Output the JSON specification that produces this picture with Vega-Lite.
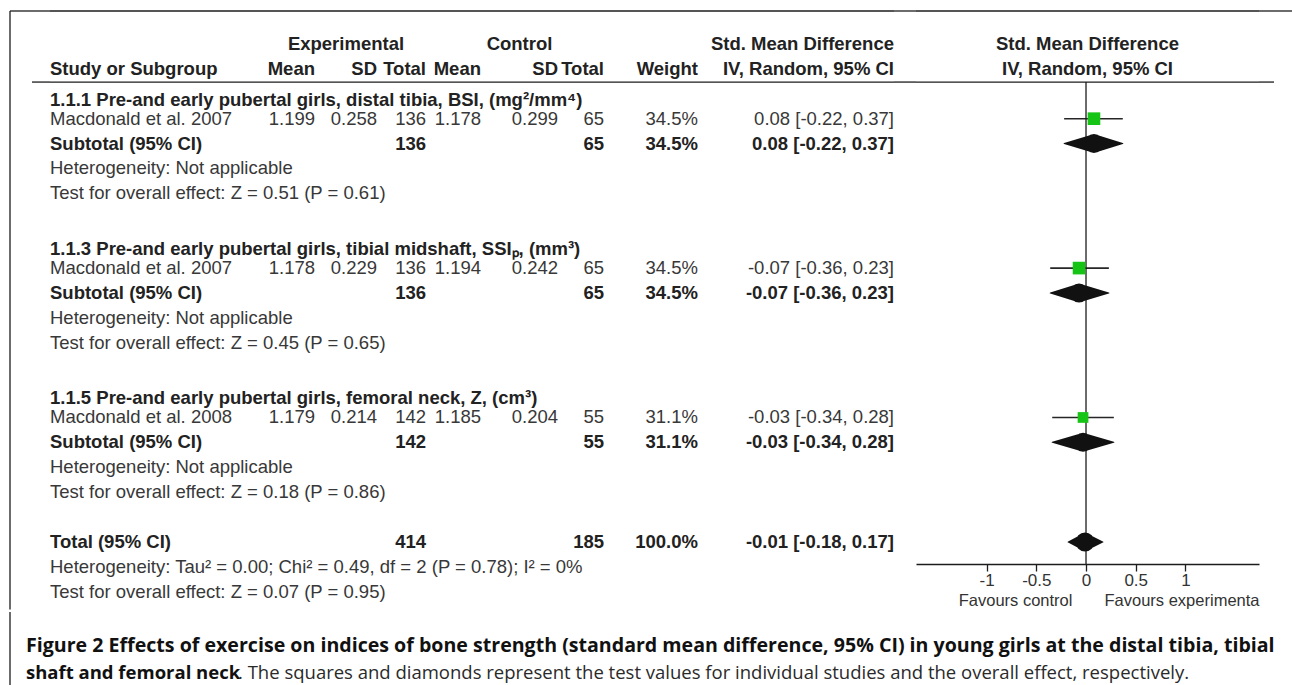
{
  "$schema": "https://vega.github.io/schema/vega-lite/v6.json",
  "background": "white",
  "padding": {"left": 9, "top": 10, "right": 0, "bottom": 0},
  "autosize": {"type": "pad"},
  "datasets": {
    "cells": [
      {"row": 0, "col": "eSD", "text": "Experimental", "w": "h"},
      {"row": 0, "col": "cSD", "text": "Control", "w": "h"},
      {"row": 0, "col": "ci", "text": "Std. Mean Difference", "w": "b"},
      {"row": 0, "col": "plot", "text": "Std. Mean Difference", "w": "b"},
      {"row": 1, "col": "study", "text": "Study or Subgroup", "w": "b"},
      {"row": 1, "col": "eMean", "text": "Mean", "w": "b"},
      {"row": 1, "col": "eSD", "text": "SD", "w": "b"},
      {"row": 1, "col": "eTotal", "text": "Total", "w": "b"},
      {"row": 1, "col": "cMean", "text": "Mean", "w": "b"},
      {"row": 1, "col": "cSD", "text": "SD", "w": "b"},
      {"row": 1, "col": "cTotal", "text": "Total", "w": "b"},
      {"row": 1, "col": "weight", "text": "Weight", "w": "b"},
      {"row": 1, "col": "ci", "text": "IV, Random, 95% CI", "w": "b"},
      {"row": 1, "col": "plot", "text": "IV, Random, 95% CI", "w": "b"},
      {"row": 2, "col": "study", "text": "1.1.1 Pre-and early pubertal girls, distal tibia, BSI, (mg²/mm⁴)", "w": "t"},
      {"row": 3, "col": "study", "text": "Macdonald et al. 2007", "w": "n"},
      {"row": 3, "col": "eMean", "text": "1.199", "w": "n"},
      {"row": 3, "col": "eSD", "text": "0.258", "w": "n"},
      {"row": 3, "col": "eTotal", "text": "136", "w": "n"},
      {"row": 3, "col": "cMean", "text": "1.178", "w": "n"},
      {"row": 3, "col": "cSD", "text": "0.299", "w": "n"},
      {"row": 3, "col": "cTotal", "text": "65", "w": "n"},
      {"row": 3, "col": "weight", "text": "34.5%", "w": "n"},
      {"row": 3, "col": "ci", "text": "0.08 [-0.22, 0.37]", "w": "n"},
      {"row": 4, "col": "study", "text": "Subtotal (95% CI)", "w": "b"},
      {"row": 4, "col": "eTotal", "text": "136", "w": "b"},
      {"row": 4, "col": "cTotal", "text": "65", "w": "b"},
      {"row": 4, "col": "weight", "text": "34.5%", "w": "b"},
      {"row": 4, "col": "ci", "text": "0.08 [-0.22, 0.37]", "w": "b"},
      {"row": 5, "col": "study", "text": "Heterogeneity: Not applicable", "w": "n"},
      {"row": 6, "col": "study", "text": "Test for overall effect: Z = 0.51 (P = 0.61)", "w": "n"},
      {"row": 8, "col": "study", "text": "1.1.3 Pre-and early pubertal girls, tibial midshaft, SSIₚ, (mm³)", "w": "t"},
      {"row": 9, "col": "study", "text": "Macdonald et al. 2007", "w": "n"},
      {"row": 9, "col": "eMean", "text": "1.178", "w": "n"},
      {"row": 9, "col": "eSD", "text": "0.229", "w": "n"},
      {"row": 9, "col": "eTotal", "text": "136", "w": "n"},
      {"row": 9, "col": "cMean", "text": "1.194", "w": "n"},
      {"row": 9, "col": "cSD", "text": "0.242", "w": "n"},
      {"row": 9, "col": "cTotal", "text": "65", "w": "n"},
      {"row": 9, "col": "weight", "text": "34.5%", "w": "n"},
      {"row": 9, "col": "ci", "text": "-0.07 [-0.36, 0.23]", "w": "n"},
      {"row": 10, "col": "study", "text": "Subtotal (95% CI)", "w": "b"},
      {"row": 10, "col": "eTotal", "text": "136", "w": "b"},
      {"row": 10, "col": "cTotal", "text": "65", "w": "b"},
      {"row": 10, "col": "weight", "text": "34.5%", "w": "b"},
      {"row": 10, "col": "ci", "text": "-0.07 [-0.36, 0.23]", "w": "b"},
      {"row": 11, "col": "study", "text": "Heterogeneity: Not applicable", "w": "n"},
      {"row": 12, "col": "study", "text": "Test for overall effect: Z = 0.45 (P = 0.65)", "w": "n"},
      {"row": 14, "col": "study", "text": "1.1.5 Pre-and early pubertal girls, femoral neck, Z, (cm³)", "w": "t"},
      {"row": 15, "col": "study", "text": "Macdonald et al. 2008", "w": "n"},
      {"row": 15, "col": "eMean", "text": "1.179", "w": "n"},
      {"row": 15, "col": "eSD", "text": "0.214", "w": "n"},
      {"row": 15, "col": "eTotal", "text": "142", "w": "n"},
      {"row": 15, "col": "cMean", "text": "1.185", "w": "n"},
      {"row": 15, "col": "cSD", "text": "0.204", "w": "n"},
      {"row": 15, "col": "cTotal", "text": "55", "w": "n"},
      {"row": 15, "col": "weight", "text": "31.1%", "w": "n"},
      {"row": 15, "col": "ci", "text": "-0.03 [-0.34, 0.28]", "w": "n"},
      {"row": 16, "col": "study", "text": "Subtotal (95% CI)", "w": "b"},
      {"row": 16, "col": "eTotal", "text": "142", "w": "b"},
      {"row": 16, "col": "cTotal", "text": "55", "w": "b"},
      {"row": 16, "col": "weight", "text": "31.1%", "w": "b"},
      {"row": 16, "col": "ci", "text": "-0.03 [-0.34, 0.28]", "w": "b"},
      {"row": 17, "col": "study", "text": "Heterogeneity: Not applicable", "w": "n"},
      {"row": 18, "col": "study", "text": "Test for overall effect: Z = 0.18 (P = 0.86)", "w": "n"},
      {"row": 20, "col": "study", "text": "Total (95% CI)", "w": "b"},
      {"row": 20, "col": "eTotal", "text": "414", "w": "b"},
      {"row": 20, "col": "cTotal", "text": "185", "w": "b"},
      {"row": 20, "col": "weight", "text": "100.0%", "w": "b"},
      {"row": 20, "col": "ci", "text": "-0.01 [-0.18, 0.17]", "w": "b"},
      {"row": 21, "col": "study", "text": "Heterogeneity: Tau² = 0.00; Chi² = 0.49, df = 2 (P = 0.78); I² = 0%", "w": "n"},
      {"row": 22, "col": "study", "text": "Test for overall effect: Z = 0.07 (P = 0.95)", "w": "n"}
    ],
    "studies": [
      {"row": 3, "est": 0.08, "lo": -0.22, "hi": 0.37, "weight": 34.5},
      {"row": 9, "est": -0.07, "lo": -0.36, "hi": 0.23, "weight": 34.5},
      {"row": 15, "est": -0.03, "lo": -0.34, "hi": 0.28, "weight": 31.1}
    ],
    "diamonds": [
      {"id": "1.1.1", "row": 4, "x": -0.22, "v": "side"},
      {"id": "1.1.1", "row": 4, "x": 0.08, "v": "apex"},
      {"id": "1.1.1", "row": 4, "x": 0.37, "v": "side"},
      {"id": "1.1.3", "row": 10, "x": -0.36, "v": "side"},
      {"id": "1.1.3", "row": 10, "x": -0.07, "v": "apex"},
      {"id": "1.1.3", "row": 10, "x": 0.23, "v": "side"},
      {"id": "1.1.5", "row": 16, "x": -0.34, "v": "side"},
      {"id": "1.1.5", "row": 16, "x": -0.03, "v": "apex"},
      {"id": "1.1.5", "row": 16, "x": 0.28, "v": "side"},
      {"id": "total", "row": 20, "x": -0.18, "v": "side"},
      {"id": "total", "row": 20, "x": -0.01, "v": "apex"},
      {"id": "total", "row": 20, "x": 0.17, "v": "side"}
    ],
    "captions": [
      {"part": "l1", "text": "Figure 2 Effects of exercise on indices of bone strength (standard mean difference, 95% CI) in young girls at the distal tibia, tibial"},
      {"part": "l2b", "text": "shaft and femoral neck"},
      {"part": "l2n", "text": ". The squares and diamonds represent the test values for individual studies and the overall effect, respectively."}
    ]
  },
  "spacing": 0,
  "vconcat": [
    {
      "spacing": 0,
      "bounds": "flush",
      "hconcat": [
        {"width": 22, "height": 598.5, "data": {"values": [{}]}, "layer": [
          {"mark": "rule", "encoding": {"y": {"datum": -1.325, "type": "quantitative", "scale": {"domain": [-1.325, 22.715], "reverse": true, "nice": false, "zero": false}, "axis": null}}},
          {"mark": "rule", "encoding": {"x": {"datum": 0, "type": "quantitative", "scale": {"domain": [0, 1], "nice": false, "zero": false}, "axis": null}}}
        ]},
        {"width": 18, "height": 593, "data": {"values": [{}]}, "layer": [
          {"mark": "rule", "encoding": {"y": {"datum": -1.325, "type": "quantitative", "scale": {"domain": [-1.325, 22.5], "reverse": true, "nice": false, "zero": false}, "axis": null}}},
          {"mark": "rule", "encoding": {"y": {"datum": 1.53, "type": "quantitative", "scale": {"domain": [-1.325, 22.5], "reverse": true, "nice": false, "zero": false}, "axis": null}}}
        ]},
        {"width": 201, "height": 593, "layer": [
          {"data": {"name": "cells"}, "transform": [{"filter": "datum.col === 'study' && datum.w === 'n'"}], "mark": {"type": "text", "align": "left"}, "encoding": {"x": {"datum": 0, "type": "quantitative", "scale": {"domain": [0, 1], "nice": false, "zero": false}, "axis": null}, "y": {"field": "row", "type": "quantitative", "scale": {"domain": [-1.325, 22.5], "reverse": true, "nice": false, "zero": false}, "axis": null}, "text": {"field": "text"}}},
          {"data": {"name": "cells"}, "transform": [{"filter": "datum.col === 'study' && datum.w === 'b'"}], "mark": {"type": "text", "align": "left", "fontWeight": "bold", "color": "#222222"}, "encoding": {"x": {"datum": 0, "type": "quantitative"}, "y": {"field": "row", "type": "quantitative"}, "text": {"field": "text"}}},
          {"data": {"name": "cells"}, "transform": [{"filter": "datum.col === 'study' && datum.w === 't'"}], "mark": {"type": "text", "align": "left", "fontWeight": "bold", "color": "#222222", "dy": 6}, "encoding": {"x": {"datum": 0, "type": "quantitative"}, "y": {"field": "row", "type": "quantitative"}, "text": {"field": "text"}}},
          {"data": {"values": [{}]}, "mark": "rule", "encoding": {"y": {"datum": -1.325}}},
          {"data": {"values": [{}]}, "mark": "rule", "encoding": {"y": {"datum": 1.53}}}
        ]},
        {"width": 64, "height": 593, "layer": [
          {"data": {"name": "cells"}, "transform": [{"filter": "datum.col === 'eMean' && datum.w === 'n'"}], "mark": {"type": "text", "align": "right"}, "encoding": {"x": {"datum": 1, "type": "quantitative", "scale": {"domain": [0, 1], "nice": false, "zero": false}, "axis": null}, "y": {"field": "row", "type": "quantitative", "scale": {"domain": [-1.325, 22.5], "reverse": true, "nice": false, "zero": false}, "axis": null}, "text": {"field": "text"}}},
          {"data": {"name": "cells"}, "transform": [{"filter": "datum.col === 'eMean' && datum.w === 'b'"}], "mark": {"type": "text", "align": "right", "fontWeight": "bold", "color": "#222222"}, "encoding": {"x": {"datum": 1, "type": "quantitative"}, "y": {"field": "row", "type": "quantitative"}, "text": {"field": "text"}}},
          {"data": {"values": [{}]}, "mark": "rule", "encoding": {"y": {"datum": -1.325}}},
          {"data": {"values": [{}]}, "mark": "rule", "encoding": {"y": {"datum": 1.53}}}
        ]},
        {"width": 62, "height": 593, "layer": [
          {"data": {"name": "cells"}, "transform": [{"filter": "datum.col === 'eSD' && datum.w === 'n'"}], "mark": {"type": "text", "align": "right"}, "encoding": {"x": {"datum": 1, "type": "quantitative", "scale": {"domain": [0, 1], "nice": false, "zero": false}, "axis": null}, "y": {"field": "row", "type": "quantitative", "scale": {"domain": [-1.325, 22.5], "reverse": true, "nice": false, "zero": false}, "axis": null}, "text": {"field": "text"}}},
          {"data": {"name": "cells"}, "transform": [{"filter": "datum.col === 'eSD' && datum.w === 'b'"}], "mark": {"type": "text", "align": "right", "fontWeight": "bold", "color": "#222222"}, "encoding": {"x": {"datum": 1, "type": "quantitative"}, "y": {"field": "row", "type": "quantitative"}, "text": {"field": "text"}}},
          {"data": {"name": "cells"}, "transform": [{"filter": "datum.col === 'eSD' && datum.w === 'h'"}], "mark": {"type": "text", "align": "center", "fontWeight": "bold", "color": "#222222"}, "encoding": {"x": {"datum": 0.5, "type": "quantitative"}, "y": {"field": "row", "type": "quantitative"}, "text": {"field": "text"}}},
          {"data": {"values": [{}]}, "mark": "rule", "encoding": {"y": {"datum": -1.325}}},
          {"data": {"values": [{}]}, "mark": "rule", "encoding": {"y": {"datum": 1.53}}}
        ]},
        {"width": 49, "height": 593, "layer": [
          {"data": {"name": "cells"}, "transform": [{"filter": "datum.col === 'eTotal' && datum.w === 'n'"}], "mark": {"type": "text", "align": "right"}, "encoding": {"x": {"datum": 1, "type": "quantitative", "scale": {"domain": [0, 1], "nice": false, "zero": false}, "axis": null}, "y": {"field": "row", "type": "quantitative", "scale": {"domain": [-1.325, 22.5], "reverse": true, "nice": false, "zero": false}, "axis": null}, "text": {"field": "text"}}},
          {"data": {"name": "cells"}, "transform": [{"filter": "datum.col === 'eTotal' && datum.w === 'b'"}], "mark": {"type": "text", "align": "right", "fontWeight": "bold", "color": "#222222"}, "encoding": {"x": {"datum": 1, "type": "quantitative"}, "y": {"field": "row", "type": "quantitative"}, "text": {"field": "text"}}},
          {"data": {"values": [{}]}, "mark": "rule", "encoding": {"y": {"datum": -1.325}}},
          {"data": {"values": [{}]}, "mark": "rule", "encoding": {"y": {"datum": 1.53}}}
        ]},
        {"width": 55, "height": 593, "layer": [
          {"data": {"name": "cells"}, "transform": [{"filter": "datum.col === 'cMean' && datum.w === 'n'"}], "mark": {"type": "text", "align": "right"}, "encoding": {"x": {"datum": 1, "type": "quantitative", "scale": {"domain": [0, 1], "nice": false, "zero": false}, "axis": null}, "y": {"field": "row", "type": "quantitative", "scale": {"domain": [-1.325, 22.5], "reverse": true, "nice": false, "zero": false}, "axis": null}, "text": {"field": "text"}}},
          {"data": {"name": "cells"}, "transform": [{"filter": "datum.col === 'cMean' && datum.w === 'b'"}], "mark": {"type": "text", "align": "right", "fontWeight": "bold", "color": "#222222"}, "encoding": {"x": {"datum": 1, "type": "quantitative"}, "y": {"field": "row", "type": "quantitative"}, "text": {"field": "text"}}},
          {"data": {"values": [{}]}, "mark": "rule", "encoding": {"y": {"datum": -1.325}}},
          {"data": {"values": [{}]}, "mark": "rule", "encoding": {"y": {"datum": 1.53}}}
        ]},
        {"width": 77, "height": 593, "layer": [
          {"data": {"name": "cells"}, "transform": [{"filter": "datum.col === 'cSD' && datum.w === 'n'"}], "mark": {"type": "text", "align": "right"}, "encoding": {"x": {"datum": 1, "type": "quantitative", "scale": {"domain": [0, 1], "nice": false, "zero": false}, "axis": null}, "y": {"field": "row", "type": "quantitative", "scale": {"domain": [-1.325, 22.5], "reverse": true, "nice": false, "zero": false}, "axis": null}, "text": {"field": "text"}}},
          {"data": {"name": "cells"}, "transform": [{"filter": "datum.col === 'cSD' && datum.w === 'b'"}], "mark": {"type": "text", "align": "right", "fontWeight": "bold", "color": "#222222"}, "encoding": {"x": {"datum": 1, "type": "quantitative"}, "y": {"field": "row", "type": "quantitative"}, "text": {"field": "text"}}},
          {"data": {"name": "cells"}, "transform": [{"filter": "datum.col === 'cSD' && datum.w === 'h'"}], "mark": {"type": "text", "align": "center", "fontWeight": "bold", "color": "#222222"}, "encoding": {"x": {"datum": 0.5, "type": "quantitative"}, "y": {"field": "row", "type": "quantitative"}, "text": {"field": "text"}}},
          {"data": {"values": [{}]}, "mark": "rule", "encoding": {"y": {"datum": -1.325}}},
          {"data": {"values": [{}]}, "mark": "rule", "encoding": {"y": {"datum": 1.53}}}
        ]},
        {"width": 46, "height": 593, "layer": [
          {"data": {"name": "cells"}, "transform": [{"filter": "datum.col === 'cTotal' && datum.w === 'n'"}], "mark": {"type": "text", "align": "right"}, "encoding": {"x": {"datum": 1, "type": "quantitative", "scale": {"domain": [0, 1], "nice": false, "zero": false}, "axis": null}, "y": {"field": "row", "type": "quantitative", "scale": {"domain": [-1.325, 22.5], "reverse": true, "nice": false, "zero": false}, "axis": null}, "text": {"field": "text"}}},
          {"data": {"name": "cells"}, "transform": [{"filter": "datum.col === 'cTotal' && datum.w === 'b'"}], "mark": {"type": "text", "align": "right", "fontWeight": "bold", "color": "#222222"}, "encoding": {"x": {"datum": 1, "type": "quantitative"}, "y": {"field": "row", "type": "quantitative"}, "text": {"field": "text"}}},
          {"data": {"values": [{}]}, "mark": "rule", "encoding": {"y": {"datum": -1.325}}},
          {"data": {"values": [{}]}, "mark": "rule", "encoding": {"y": {"datum": 1.53}}}
        ]},
        {"width": 94, "height": 593, "layer": [
          {"data": {"name": "cells"}, "transform": [{"filter": "datum.col === 'weight' && datum.w === 'n'"}], "mark": {"type": "text", "align": "right"}, "encoding": {"x": {"datum": 1, "type": "quantitative", "scale": {"domain": [0, 1], "nice": false, "zero": false}, "axis": null}, "y": {"field": "row", "type": "quantitative", "scale": {"domain": [-1.325, 22.5], "reverse": true, "nice": false, "zero": false}, "axis": null}, "text": {"field": "text"}}},
          {"data": {"name": "cells"}, "transform": [{"filter": "datum.col === 'weight' && datum.w === 'b'"}], "mark": {"type": "text", "align": "right", "fontWeight": "bold", "color": "#222222"}, "encoding": {"x": {"datum": 1, "type": "quantitative"}, "y": {"field": "row", "type": "quantitative"}, "text": {"field": "text"}}},
          {"data": {"values": [{}]}, "mark": "rule", "encoding": {"y": {"datum": -1.325}}},
          {"data": {"values": [{}]}, "mark": "rule", "encoding": {"y": {"datum": 1.53}}}
        ]},
        {"width": 196, "height": 593, "layer": [
          {"data": {"name": "cells"}, "transform": [{"filter": "datum.col === 'ci' && datum.w === 'n'"}], "mark": {"type": "text", "align": "right"}, "encoding": {"x": {"datum": 1, "type": "quantitative", "scale": {"domain": [0, 1], "nice": false, "zero": false}, "axis": null}, "y": {"field": "row", "type": "quantitative", "scale": {"domain": [-1.325, 22.5], "reverse": true, "nice": false, "zero": false}, "axis": null}, "text": {"field": "text"}}},
          {"data": {"name": "cells"}, "transform": [{"filter": "datum.col === 'ci' && datum.w === 'b'"}], "mark": {"type": "text", "align": "right", "fontWeight": "bold", "color": "#222222"}, "encoding": {"x": {"datum": 1, "type": "quantitative"}, "y": {"field": "row", "type": "quantitative"}, "text": {"field": "text"}}},
          {"data": {"values": [{}]}, "mark": "rule", "encoding": {"y": {"datum": -1.325}}},
          {"data": {"values": [{}]}, "mark": "rule", "encoding": {"y": {"datum": 1.53}}}
        ]},
        {"width": 22, "height": 593, "data": {"values": [{}]}, "layer": [
          {"mark": "rule", "encoding": {"y": {"datum": -1.325, "type": "quantitative", "scale": {"domain": [-1.325, 22.5], "reverse": true, "nice": false, "zero": false}, "axis": null}}},
          {"mark": "rule", "encoding": {"y": {"datum": 1.53, "type": "quantitative", "scale": {"domain": [-1.325, 22.5], "reverse": true, "nice": false, "zero": false}, "axis": null}}}
        ]},
        {"width": 343, "height": 553,
          "layer": [
          {"data": {"name": "cells"}, "transform": [{"filter": "datum.col === 'plot'"}], "mark": {"type": "text", "align": "center", "fontWeight": "bold", "color": "#222222"}, "encoding": {"y": {"field": "row", "type": "quantitative", "scale": {"domain": [-1.325, 20.885], "reverse": true, "nice": false, "zero": false}, "axis": null}, "text": {"field": "text"}}},
          {"data": {"values": [{}]}, "mark": "rule", "encoding": {"y": {"datum": -1.325, "type": "quantitative", "axis": null}}},
          {"data": {"values": [{}]}, "mark": "rule", "encoding": {"y": {"datum": 1.53, "type": "quantitative", "axis": null}}},
          {"data": {"name": "studies"}, "mark": {"type": "rule", "color": "#262626", "strokeWidth": 1.6}, "encoding": {
            "x": {"field": "lo", "type": "quantitative", "scale": {"domain": [-1.71, 1.74], "nice": false, "zero": false},
              "axis": {"values": [-1, -0.5, 0, 0.5, 1], "format": "~g", "labelExpr": "replace(datum.label, '−', '-')", "grid": false, "tickSize": 7, "labelPadding": 1, "labelFontSize": 17, "labelFont": "Liberation Sans", "labelColor": "#333333", "domainColor": "#1c1c1c", "tickColor": "#1c1c1c", "domainWidth": 1.3, "tickWidth": 1.3, "labelFlush": false, "labelOverlap": false,
                "title": "Favours control\u00a0\u00a0\u00a0\u00a0\u00a0\u00a0\u00a0Favours experimenta", "titleFont": "Liberation Sans", "titleFontSize": 16.5, "titleFontWeight": "normal", "titleColor": "#333333", "titleAnchor": "end", "titlePadding": 4}},
            "x2": {"field": "hi"},
            "y": {"field": "row", "type": "quantitative", "axis": null}}},
          {"data": {"values": [{}]}, "mark": {"type": "rule", "color": "#1c1c1c", "strokeWidth": 1.3}, "encoding": {"x": {"datum": 0, "type": "quantitative"}, "y": {"datum": 1.53, "type": "quantitative", "axis": null}, "y2": {"datum": 20.885}}},
          {"data": {"name": "studies"}, "mark": {"type": "point", "shape": "square", "filled": true, "color": "#16c416", "opacity": 1}, "encoding": {
            "x": {"field": "est", "type": "quantitative"},
            "y": {"field": "row", "type": "quantitative", "axis": null},
            "size": {"field": "weight", "type": "quantitative", "scale": {"domain": [31.1, 34.5], "range": [115, 160]}, "legend": null}}},
          {"data": {"name": "diamonds"}, "mark": {"type": "trail", "color": "#111111", "opacity": 1}, "encoding": {
            "x": {"field": "x", "type": "quantitative"},
            "y": {"field": "row", "type": "quantitative", "axis": null},
            "size": {"field": "v", "type": "ordinal", "scale": {"type": "point", "domain": ["side", "apex"], "range": [0, 19], "padding": 0}, "legend": null},
            "detail": {"field": "id"}}}
        ]},
        {"width": 15, "height": 593, "data": {"values": [{}]}, "layer": [
          {"mark": "rule", "encoding": {"y": {"datum": -1.325, "type": "quantitative", "scale": {"domain": [-1.325, 22.5], "reverse": true, "nice": false, "zero": false}, "axis": null}}},
          {"mark": "rule", "encoding": {"y": {"datum": 1.53, "type": "quantitative", "scale": {"domain": [-1.325, 22.5], "reverse": true, "nice": false, "zero": false}, "axis": null}}}
        ]},
        {"width": 19, "height": 593, "data": {"values": [{}]}, "mark": "rule", "encoding": {"y": {"datum": -1.325, "type": "quantitative", "scale": {"domain": [-1.325, 22.5], "reverse": true, "nice": false, "zero": false}, "axis": null}}}
      ]
    },
    {
      "spacing": 0,
      "bounds": "flush",
      "hconcat": [
        {"width": 16, "height": 76.5, "data": {"values": [{}]}, "mark": "rule", "encoding": {"x": {"datum": 0, "type": "quantitative", "scale": {"domain": [0, 1], "nice": false, "zero": false}, "axis": null}}},
        {
          "spacing": 0,
          "bounds": "flush",
          "vconcat": [
            {"width": 1267, "height": 39.5, "data": {"name": "captions"}, "transform": [{"filter": "datum.part === 'l1'"}], "mark": {"type": "text", "align": "left", "baseline": "alphabetic", "font": "Open Sans", "fontSize": 19.6, "fontWeight": "bold", "color": "#111111"}, "encoding": {"x": {"datum": 0, "type": "quantitative", "scale": {"domain": [0, 1], "nice": false, "zero": false}, "axis": null}, "y": {"value": "height"}, "text": {"field": "text"}}},
            {
              "spacing": 0,
              "bounds": "flush",
              "hconcat": [
                {"width": 212, "height": 27, "data": {"name": "captions"}, "transform": [{"filter": "datum.part === 'l2b'"}], "mark": {"type": "text", "align": "left", "baseline": "alphabetic", "font": "Open Sans", "fontSize": 18.5, "fontWeight": "bold", "color": "#111111"}, "encoding": {"x": {"datum": 0, "type": "quantitative", "scale": {"domain": [0, 1], "nice": false, "zero": false}, "axis": null}, "y": {"value": "height"}, "text": {"field": "text"}}},
                {"width": 1055, "height": 27, "data": {"name": "captions"}, "transform": [{"filter": "datum.part === 'l2n'"}], "mark": {"type": "text", "align": "left", "baseline": "alphabetic", "font": "Open Sans", "fontSize": 18.5, "fontWeight": "normal", "color": "#2a2a2a"}, "encoding": {"x": {"datum": 0, "type": "quantitative", "scale": {"domain": [0, 1], "nice": false, "zero": false}, "axis": null}, "y": {"value": "height"}, "text": {"field": "text"}}}
              ]
            }
          ]
        }
      ]
    }
  ],
  "config": {
    "view": {"stroke": null},
    "text": {"font": "Liberation Sans", "fontSize": 18.5, "color": "#383838", "baseline": "middle"},
    "rule": {"color": "#1c1c1c", "strokeWidth": 1.3}
  }
}
